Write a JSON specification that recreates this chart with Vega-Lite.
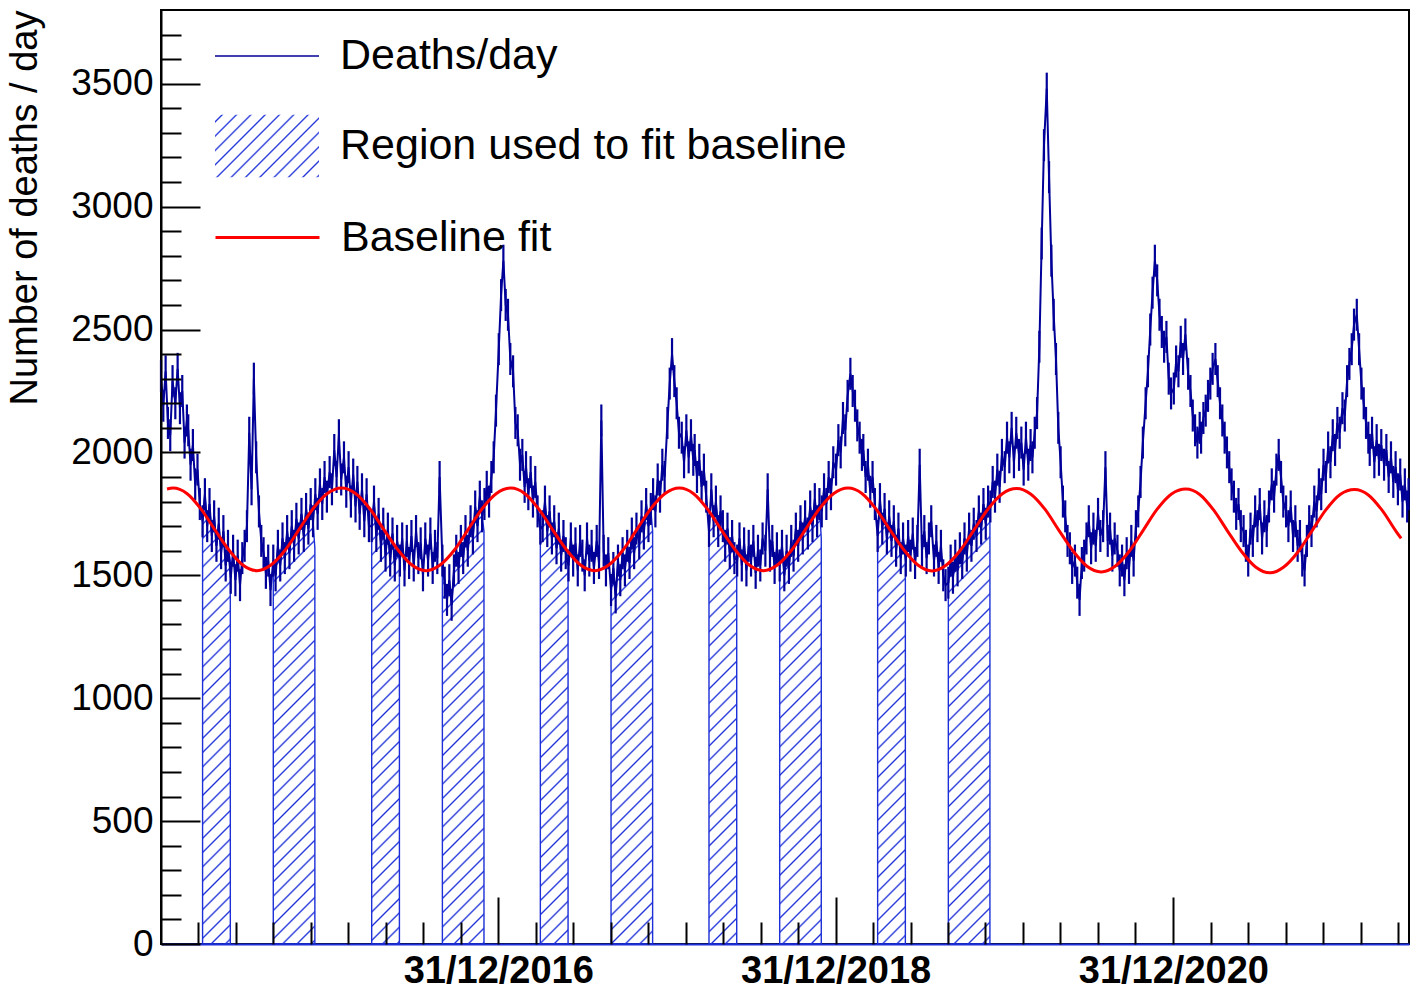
{
  "$schema": "https://vega.github.io/schema/vega-lite/v6.json",
  "description": "Daily deaths with the baseline fit and the regions used for the fit",
  "width": 1248,
  "height": 934,
  "autosize": "none",
  "padding": {"left": 161, "top": 10, "right": 8, "bottom": 54},
  "background": "#ffffff",
  "datasets": {
    "deaths": [
      {"d":"2015-01-01","v":2310},{"d":"2015-01-06","v":2190},{"d":"2015-01-11","v":2330},{"d":"2015-01-16","v":2120},{"d":"2015-01-21","v":2070},{"d":"2015-01-26","v":2290},
      {"d":"2015-02-01","v":2200},{"d":"2015-02-06","v":2340},{"d":"2015-02-11","v":2180},{"d":"2015-02-16","v":2250},{"d":"2015-02-21","v":2040},{"d":"2015-02-26","v":2130},
      {"d":"2015-03-01","v":2090},{"d":"2015-03-06","v":1950},{"d":"2015-03-11","v":2030},{"d":"2015-03-16","v":1870},{"d":"2015-03-21","v":1930},{"d":"2015-03-26","v":1790},
      {"d":"2015-04-01","v":1720},{"d":"2015-04-06","v":1830},{"d":"2015-04-11","v":1700},{"d":"2015-04-16","v":1790},{"d":"2015-04-21","v":1660},{"d":"2015-04-26","v":1740},
      {"d":"2015-05-01","v":1620},{"d":"2015-05-06","v":1710},{"d":"2015-05-11","v":1590},{"d":"2015-05-16","v":1680},{"d":"2015-05-21","v":1540},{"d":"2015-05-26","v":1620},
      {"d":"2015-06-01","v":1490},{"d":"2015-06-06","v":1600},{"d":"2015-06-11","v":1480},{"d":"2015-06-16","v":1580},{"d":"2015-06-21","v":1460},{"d":"2015-06-26","v":1570},
      {"d":"2015-07-01","v":1620},{"d":"2015-07-06","v":1700},{"d":"2015-07-11","v":2080},{"d":"2015-07-16","v":1850},{"d":"2015-07-21","v":2300},{"d":"2015-07-26","v":1980},
      {"d":"2015-08-01","v":1760},{"d":"2015-08-06","v":1640},{"d":"2015-08-11","v":1590},{"d":"2015-08-16","v":1510},{"d":"2015-08-21","v":1560},{"d":"2015-08-26","v":1440},
      {"d":"2015-09-01","v":1560},{"d":"2015-09-06","v":1500},{"d":"2015-09-11","v":1620},{"d":"2015-09-16","v":1540},{"d":"2015-09-21","v":1650},{"d":"2015-09-26","v":1570},
      {"d":"2015-10-01","v":1680},{"d":"2015-10-06","v":1590},{"d":"2015-10-11","v":1700},{"d":"2015-10-16","v":1620},{"d":"2015-10-21","v":1730},{"d":"2015-10-26","v":1650},
      {"d":"2015-11-01","v":1750},{"d":"2015-11-06","v":1660},{"d":"2015-11-11","v":1770},{"d":"2015-11-16","v":1690},{"d":"2015-11-21","v":1790},{"d":"2015-11-26","v":1720},
      {"d":"2015-12-01","v":1830},{"d":"2015-12-06","v":1750},{"d":"2015-12-11","v":1870},{"d":"2015-12-16","v":1790},{"d":"2015-12-21","v":1900},{"d":"2015-12-26","v":1820},
      {"d":"2016-01-01","v":1920},{"d":"2016-01-06","v":1850},{"d":"2016-01-11","v":2010},{"d":"2016-01-16","v":1900},{"d":"2016-01-21","v":2070},{"d":"2016-01-26","v":1890},
      {"d":"2016-02-01","v":1980},{"d":"2016-02-06","v":1840},{"d":"2016-02-11","v":1940},{"d":"2016-02-16","v":1800},{"d":"2016-02-21","v":1910},{"d":"2016-02-26","v":1780},
      {"d":"2016-03-01","v":1880},{"d":"2016-03-06","v":1750},{"d":"2016-03-11","v":1850},{"d":"2016-03-16","v":1720},{"d":"2016-03-21","v":1830},{"d":"2016-03-26","v":1700},
      {"d":"2016-04-01","v":1700},{"d":"2016-04-06","v":1800},{"d":"2016-04-11","v":1660},{"d":"2016-04-16","v":1750},{"d":"2016-04-21","v":1620},{"d":"2016-04-26","v":1710},
      {"d":"2016-05-01","v":1580},{"d":"2016-05-06","v":1690},{"d":"2016-05-11","v":1560},{"d":"2016-05-16","v":1670},{"d":"2016-05-21","v":1540},{"d":"2016-05-26","v":1640},
      {"d":"2016-06-01","v":1560},{"d":"2016-06-06","v":1650},{"d":"2016-06-11","v":1520},{"d":"2016-06-16","v":1640},{"d":"2016-06-21","v":1550},{"d":"2016-06-26","v":1660},
      {"d":"2016-07-01","v":1540},{"d":"2016-07-06","v":1680},{"d":"2016-07-11","v":1570},{"d":"2016-07-16","v":1630},{"d":"2016-07-21","v":1500},{"d":"2016-07-26","v":1650},
      {"d":"2016-08-01","v":1560},{"d":"2016-08-06","v":1670},{"d":"2016-08-11","v":1530},{"d":"2016-08-16","v":1620},{"d":"2016-08-21","v":1570},{"d":"2016-08-26","v":1900},
      {"d":"2016-09-01","v":1560},{"d":"2016-09-06","v":1470},{"d":"2016-09-11","v":1400},{"d":"2016-09-16","v":1480},{"d":"2016-09-21","v":1380},{"d":"2016-09-26","v":1520},
      {"d":"2016-10-01","v":1600},{"d":"2016-10-06","v":1530},{"d":"2016-10-11","v":1640},{"d":"2016-10-16","v":1570},{"d":"2016-10-21","v":1680},{"d":"2016-10-26","v":1600},
      {"d":"2016-11-01","v":1720},{"d":"2016-11-06","v":1650},{"d":"2016-11-11","v":1780},{"d":"2016-11-16","v":1700},{"d":"2016-11-21","v":1820},{"d":"2016-11-26","v":1740},
      {"d":"2016-12-01","v":1790},{"d":"2016-12-06","v":1860},{"d":"2016-12-11","v":1800},{"d":"2016-12-16","v":1900},{"d":"2016-12-21","v":1980},{"d":"2016-12-26","v":2170},
      {"d":"2017-01-01","v":2420},{"d":"2017-01-06","v":2640},{"d":"2017-01-11","v":2780},{"d":"2017-01-16","v":2600},{"d":"2017-01-21","v":2560},{"d":"2017-01-26","v":2380},
      {"d":"2017-02-01","v":2330},{"d":"2017-02-06","v":2120},{"d":"2017-02-11","v":2090},{"d":"2017-02-16","v":1950},{"d":"2017-02-21","v":1990},{"d":"2017-02-26","v":1860},
      {"d":"2017-03-01","v":1940},{"d":"2017-03-06","v":1830},{"d":"2017-03-11","v":1920},{"d":"2017-03-16","v":1800},{"d":"2017-03-21","v":1880},{"d":"2017-03-26","v":1760},
      {"d":"2017-04-01","v":1690},{"d":"2017-04-06","v":1700},{"d":"2017-04-11","v":1800},{"d":"2017-04-16","v":1680},{"d":"2017-04-21","v":1760},{"d":"2017-04-26","v":1650},
      {"d":"2017-05-01","v":1720},{"d":"2017-05-06","v":1610},{"d":"2017-05-11","v":1690},{"d":"2017-05-16","v":1580},{"d":"2017-05-21","v":1660},{"d":"2017-05-26","v":1590},
      {"d":"2017-06-01","v":1540},{"d":"2017-06-06","v":1650},{"d":"2017-06-11","v":1560},{"d":"2017-06-16","v":1630},{"d":"2017-06-21","v":1520},{"d":"2017-06-26","v":1640},
      {"d":"2017-07-01","v":1580},{"d":"2017-07-06","v":1500},{"d":"2017-07-11","v":1650},{"d":"2017-07-16","v":1560},{"d":"2017-07-21","v":1620},{"d":"2017-07-26","v":1530},
      {"d":"2017-08-01","v":1640},{"d":"2017-08-06","v":1550},{"d":"2017-08-11","v":2130},{"d":"2017-08-16","v":1600},{"d":"2017-08-21","v":1520},{"d":"2017-08-26","v":1590},
      {"d":"2017-09-01","v":1440},{"d":"2017-09-06","v":1530},{"d":"2017-09-11","v":1410},{"d":"2017-09-16","v":1560},{"d":"2017-09-21","v":1480},{"d":"2017-09-26","v":1590},
      {"d":"2017-10-01","v":1520},{"d":"2017-10-06","v":1620},{"d":"2017-10-11","v":1550},{"d":"2017-10-16","v":1670},{"d":"2017-10-21","v":1590},{"d":"2017-10-26","v":1690},
      {"d":"2017-11-01","v":1630},{"d":"2017-11-06","v":1740},{"d":"2017-11-11","v":1670},{"d":"2017-11-16","v":1790},{"d":"2017-11-21","v":1700},{"d":"2017-11-26","v":1770},
      {"d":"2017-12-01","v":1830},{"d":"2017-12-06","v":1760},{"d":"2017-12-11","v":1890},{"d":"2017-12-16","v":1820},{"d":"2017-12-21","v":1950},{"d":"2017-12-26","v":1900},
      {"d":"2018-01-01","v":2120},{"d":"2018-01-06","v":2280},{"d":"2018-01-11","v":2400},{"d":"2018-01-16","v":2290},{"d":"2018-01-21","v":2200},{"d":"2018-01-26","v":2080},
      {"d":"2018-02-01","v":2060},{"d":"2018-02-06","v":1960},{"d":"2018-02-11","v":2090},{"d":"2018-02-16","v":1980},{"d":"2018-02-21","v":2070},{"d":"2018-02-26","v":1970},
      {"d":"2018-03-01","v":2010},{"d":"2018-03-06","v":1900},{"d":"2018-03-11","v":1970},{"d":"2018-03-16","v":1860},{"d":"2018-03-21","v":1930},{"d":"2018-03-26","v":1820},
      {"d":"2018-04-01","v":1680},{"d":"2018-04-06","v":1850},{"d":"2018-04-11","v":1720},{"d":"2018-04-16","v":1800},{"d":"2018-04-21","v":1680},{"d":"2018-04-26","v":1760},
      {"d":"2018-05-01","v":1700},{"d":"2018-05-06","v":1620},{"d":"2018-05-11","v":1690},{"d":"2018-05-16","v":1590},{"d":"2018-05-21","v":1660},{"d":"2018-05-26","v":1570},
      {"d":"2018-06-01","v":1560},{"d":"2018-06-06","v":1650},{"d":"2018-06-11","v":1540},{"d":"2018-06-16","v":1630},{"d":"2018-06-21","v":1520},{"d":"2018-06-26","v":1620},
      {"d":"2018-07-01","v":1560},{"d":"2018-07-06","v":1640},{"d":"2018-07-11","v":1510},{"d":"2018-07-16","v":1600},{"d":"2018-07-21","v":1540},{"d":"2018-07-26","v":1650},
      {"d":"2018-08-01","v":1600},{"d":"2018-08-06","v":1850},{"d":"2018-08-11","v":1580},{"d":"2018-08-16","v":1640},{"d":"2018-08-21","v":1530},{"d":"2018-08-26","v":1610},
      {"d":"2018-09-01","v":1540},{"d":"2018-09-06","v":1620},{"d":"2018-09-11","v":1500},{"d":"2018-09-16","v":1600},{"d":"2018-09-21","v":1530},{"d":"2018-09-26","v":1640},
      {"d":"2018-10-01","v":1580},{"d":"2018-10-06","v":1690},{"d":"2018-10-11","v":1620},{"d":"2018-10-16","v":1720},{"d":"2018-10-21","v":1650},{"d":"2018-10-26","v":1740},
      {"d":"2018-11-01","v":1670},{"d":"2018-11-06","v":1780},{"d":"2018-11-11","v":1700},{"d":"2018-11-16","v":1810},{"d":"2018-11-21","v":1720},{"d":"2018-11-26","v":1790},
      {"d":"2018-12-01","v":1760},{"d":"2018-12-06","v":1850},{"d":"2018-12-11","v":1790},{"d":"2018-12-16","v":1900},{"d":"2018-12-21","v":1830},{"d":"2018-12-26","v":1960},
      {"d":"2019-01-01","v":1930},{"d":"2019-01-06","v":2050},{"d":"2019-01-11","v":2000},{"d":"2019-01-16","v":2140},{"d":"2019-01-21","v":2090},{"d":"2019-01-26","v":2230},
      {"d":"2019-02-01","v":2320},{"d":"2019-02-06","v":2250},{"d":"2019-02-11","v":2190},{"d":"2019-02-16","v":2110},{"d":"2019-02-21","v":2060},{"d":"2019-02-26","v":1990},
      {"d":"2019-03-01","v":2010},{"d":"2019-03-06","v":1900},{"d":"2019-03-11","v":1950},{"d":"2019-03-16","v":1840},{"d":"2019-03-21","v":1900},{"d":"2019-03-26","v":1790},
      {"d":"2019-04-01","v":1660},{"d":"2019-04-06","v":1810},{"d":"2019-04-11","v":1690},{"d":"2019-04-16","v":1770},{"d":"2019-04-21","v":1650},{"d":"2019-04-26","v":1740},
      {"d":"2019-05-01","v":1640},{"d":"2019-05-06","v":1720},{"d":"2019-05-11","v":1600},{"d":"2019-05-16","v":1690},{"d":"2019-05-21","v":1570},{"d":"2019-05-26","v":1650},
      {"d":"2019-06-01","v":1560},{"d":"2019-06-06","v":1660},{"d":"2019-06-11","v":1580},{"d":"2019-06-16","v":1670},{"d":"2019-06-21","v":1550},{"d":"2019-06-26","v":1640},
      {"d":"2019-07-01","v":1950},{"d":"2019-07-06","v":1600},{"d":"2019-07-11","v":1680},{"d":"2019-07-16","v":1570},{"d":"2019-07-21","v":1650},{"d":"2019-07-26","v":1720},
      {"d":"2019-08-01","v":1560},{"d":"2019-08-06","v":1640},{"d":"2019-08-11","v":1530},{"d":"2019-08-16","v":1620},{"d":"2019-08-21","v":1500},{"d":"2019-08-26","v":1460},
      {"d":"2019-09-01","v":1470},{"d":"2019-09-06","v":1560},{"d":"2019-09-11","v":1490},{"d":"2019-09-16","v":1580},{"d":"2019-09-21","v":1520},{"d":"2019-09-26","v":1610},
      {"d":"2019-10-01","v":1550},{"d":"2019-10-06","v":1650},{"d":"2019-10-11","v":1580},{"d":"2019-10-16","v":1690},{"d":"2019-10-21","v":1620},{"d":"2019-10-26","v":1710},
      {"d":"2019-11-01","v":1660},{"d":"2019-11-06","v":1760},{"d":"2019-11-11","v":1690},{"d":"2019-11-16","v":1790},{"d":"2019-11-21","v":1710},{"d":"2019-11-26","v":1800},
      {"d":"2019-12-01","v":1780},{"d":"2019-12-06","v":1880},{"d":"2019-12-11","v":1820},{"d":"2019-12-16","v":1930},{"d":"2019-12-21","v":1860},{"d":"2019-12-26","v":1990},
      {"d":"2020-01-01","v":1940},{"d":"2020-01-06","v":2060},{"d":"2020-01-11","v":1980},{"d":"2020-01-16","v":2100},{"d":"2020-01-21","v":1960},{"d":"2020-01-26","v":2080},
      {"d":"2020-02-01","v":1990},{"d":"2020-02-06","v":2040},{"d":"2020-02-11","v":1930},{"d":"2020-02-16","v":2060},{"d":"2020-02-21","v":1950},{"d":"2020-02-26","v":2030},
      {"d":"2020-03-01","v":1980},{"d":"2020-03-06","v":2080},{"d":"2020-03-11","v":2160},{"d":"2020-03-16","v":2430},{"d":"2020-03-21","v":2850},{"d":"2020-03-26","v":3250},
      {"d":"2020-04-01","v":3480},{"d":"2020-04-06","v":3120},{"d":"2020-04-11","v":2780},{"d":"2020-04-16","v":2560},{"d":"2020-04-21","v":2380},{"d":"2020-04-26","v":2100},
      {"d":"2020-05-01","v":1960},{"d":"2020-05-06","v":1800},{"d":"2020-05-11","v":1740},{"d":"2020-05-16","v":1640},{"d":"2020-05-21","v":1610},{"d":"2020-05-26","v":1530},
      {"d":"2020-06-01","v":1560},{"d":"2020-06-06","v":1470},{"d":"2020-06-11","v":1400},{"d":"2020-06-16","v":1550},{"d":"2020-06-21","v":1580},{"d":"2020-06-26","v":1650},
      {"d":"2020-07-01","v":1720},{"d":"2020-07-06","v":1610},{"d":"2020-07-11","v":1690},{"d":"2020-07-16","v":1620},{"d":"2020-07-21","v":1750},{"d":"2020-07-26","v":1660},
      {"d":"2020-08-01","v":1700},{"d":"2020-08-06","v":1940},{"d":"2020-08-11","v":1640},{"d":"2020-08-16","v":1690},{"d":"2020-08-21","v":1580},{"d":"2020-08-26","v":1650},
      {"d":"2020-09-01","v":1600},{"d":"2020-09-06","v":1520},{"d":"2020-09-11","v":1560},{"d":"2020-09-16","v":1480},{"d":"2020-09-21","v":1590},{"d":"2020-09-26","v":1530},
      {"d":"2020-10-01","v":1640},{"d":"2020-10-06","v":1560},{"d":"2020-10-11","v":1700},{"d":"2020-10-16","v":1760},{"d":"2020-10-21","v":1880},{"d":"2020-10-26","v":2040},
      {"d":"2020-11-01","v":2200},{"d":"2020-11-06","v":2330},{"d":"2020-11-11","v":2500},{"d":"2020-11-16","v":2650},{"d":"2020-11-21","v":2780},{"d":"2020-11-26","v":2700},
      {"d":"2020-12-01","v":2560},{"d":"2020-12-06","v":2490},{"d":"2020-12-11","v":2430},{"d":"2020-12-16","v":2470},{"d":"2020-12-21","v":2300},{"d":"2020-12-26","v":2240},
      {"d":"2021-01-01","v":2260},{"d":"2021-01-06","v":2370},{"d":"2021-01-11","v":2330},{"d":"2021-01-16","v":2450},{"d":"2021-01-21","v":2380},{"d":"2021-01-26","v":2480},
      {"d":"2021-02-01","v":2320},{"d":"2021-02-06","v":2250},{"d":"2021-02-11","v":2150},{"d":"2021-02-16","v":2090},{"d":"2021-02-21","v":2040},{"d":"2021-02-26","v":2100},
      {"d":"2021-03-01","v":2060},{"d":"2021-03-06","v":2140},{"d":"2021-03-11","v":2170},{"d":"2021-03-16","v":2230},{"d":"2021-03-21","v":2280},{"d":"2021-03-26","v":2340},
      {"d":"2021-04-01","v":2380},{"d":"2021-04-06","v":2290},{"d":"2021-04-11","v":2200},{"d":"2021-04-16","v":2130},{"d":"2021-04-21","v":2060},{"d":"2021-04-26","v":2000},
      {"d":"2021-05-01","v":1940},{"d":"2021-05-06","v":1870},{"d":"2021-05-11","v":1820},{"d":"2021-05-16","v":1750},{"d":"2021-05-21","v":1790},{"d":"2021-05-26","v":1700},
      {"d":"2021-06-01","v":1680},{"d":"2021-06-06","v":1620},{"d":"2021-06-11","v":1560},{"d":"2021-06-16","v":1690},{"d":"2021-06-21","v":1640},{"d":"2021-06-26","v":1760},
      {"d":"2021-07-01","v":1700},{"d":"2021-07-06","v":1790},{"d":"2021-07-11","v":1650},{"d":"2021-07-16","v":1740},{"d":"2021-07-21","v":1680},{"d":"2021-07-26","v":1780},
      {"d":"2021-08-01","v":1870},{"d":"2021-08-06","v":1820},{"d":"2021-08-11","v":1930},{"d":"2021-08-16","v":1990},{"d":"2021-08-21","v":1900},{"d":"2021-08-26","v":1800},
      {"d":"2021-09-01","v":1760},{"d":"2021-09-06","v":1700},{"d":"2021-09-11","v":1780},{"d":"2021-09-16","v":1660},{"d":"2021-09-21","v":1720},{"d":"2021-09-26","v":1620},
      {"d":"2021-10-01","v":1660},{"d":"2021-10-06","v":1560},{"d":"2021-10-11","v":1520},{"d":"2021-10-16","v":1640},{"d":"2021-10-21","v":1720},{"d":"2021-10-26","v":1680},
      {"d":"2021-11-01","v":1800},{"d":"2021-11-06","v":1760},{"d":"2021-11-11","v":1870},{"d":"2021-11-16","v":1830},{"d":"2021-11-21","v":1950},{"d":"2021-11-26","v":1900},
      {"d":"2021-12-01","v":2020},{"d":"2021-12-06","v":1960},{"d":"2021-12-11","v":2070},{"d":"2021-12-16","v":2010},{"d":"2021-12-21","v":2120},{"d":"2021-12-26","v":2080},
      {"d":"2022-01-01","v":2180},{"d":"2022-01-06","v":2150},{"d":"2022-01-11","v":2290},{"d":"2022-01-16","v":2360},{"d":"2022-01-21","v":2420},{"d":"2022-01-26","v":2520},
      {"d":"2022-02-01","v":2560},{"d":"2022-02-06","v":2420},{"d":"2022-02-11","v":2280},{"d":"2022-02-16","v":2200},{"d":"2022-02-21","v":2120},{"d":"2022-02-26","v":2060},
      {"d":"2022-03-01","v":2010},{"d":"2022-03-06","v":2080},{"d":"2022-03-11","v":1960},{"d":"2022-03-16","v":2050},{"d":"2022-03-21","v":1970},{"d":"2022-03-26","v":2030},
      {"d":"2022-04-01","v":1950},{"d":"2022-04-06","v":2010},{"d":"2022-04-11","v":1900},{"d":"2022-04-16","v":1980},{"d":"2022-04-21","v":1880},{"d":"2022-04-26","v":1940},
      {"d":"2022-05-01","v":1850},{"d":"2022-05-06","v":1910},{"d":"2022-05-11","v":1800},{"d":"2022-05-16","v":1870},{"d":"2022-05-21","v":1780},{"d":"2022-05-24","v":1830}
    ],
    "fitregion": [
      {"d":"2015-04-01","v":1720},{"d":"2015-04-06","v":1830},{"d":"2015-04-11","v":1700},{"d":"2015-04-16","v":1790},{"d":"2015-04-21","v":1660},{"d":"2015-04-26","v":1740},
      {"d":"2015-05-01","v":1620},{"d":"2015-05-06","v":1710},{"d":"2015-05-11","v":1590},{"d":"2015-05-16","v":1680},{"d":"2015-05-21","v":1540},{"d":"2015-05-26","v":1620},{"d":"2015-05-31","v":1560},{"d":"2015-06-01","v":null},
      {"d":"2015-09-01","v":1560},{"d":"2015-09-06","v":1500},{"d":"2015-09-11","v":1620},{"d":"2015-09-16","v":1540},{"d":"2015-09-21","v":1650},{"d":"2015-09-26","v":1570},
      {"d":"2015-10-01","v":1680},{"d":"2015-10-06","v":1590},{"d":"2015-10-11","v":1700},{"d":"2015-10-16","v":1620},{"d":"2015-10-21","v":1730},{"d":"2015-10-26","v":1650},
      {"d":"2015-11-01","v":1750},{"d":"2015-11-06","v":1660},{"d":"2015-11-11","v":1770},{"d":"2015-11-16","v":1690},{"d":"2015-11-21","v":1790},{"d":"2015-11-26","v":1720},{"d":"2015-11-30","v":1610},{"d":"2015-12-01","v":null},
      {"d":"2016-04-01","v":1700},{"d":"2016-04-06","v":1800},{"d":"2016-04-11","v":1660},{"d":"2016-04-16","v":1750},{"d":"2016-04-21","v":1620},{"d":"2016-04-26","v":1710},
      {"d":"2016-05-01","v":1580},{"d":"2016-05-06","v":1690},{"d":"2016-05-11","v":1560},{"d":"2016-05-16","v":1670},{"d":"2016-05-21","v":1540},{"d":"2016-05-26","v":1640},{"d":"2016-05-31","v":1590},{"d":"2016-06-01","v":null},
      {"d":"2016-09-01","v":1560},{"d":"2016-09-06","v":1470},{"d":"2016-09-11","v":1400},{"d":"2016-09-16","v":1480},{"d":"2016-09-21","v":1380},{"d":"2016-09-26","v":1520},
      {"d":"2016-10-01","v":1600},{"d":"2016-10-06","v":1530},{"d":"2016-10-11","v":1640},{"d":"2016-10-16","v":1570},{"d":"2016-10-21","v":1680},{"d":"2016-10-26","v":1600},
      {"d":"2016-11-01","v":1720},{"d":"2016-11-06","v":1650},{"d":"2016-11-11","v":1780},{"d":"2016-11-16","v":1700},{"d":"2016-11-21","v":1820},{"d":"2016-11-26","v":1740},{"d":"2016-11-30","v":1680},{"d":"2016-12-01","v":null},
      {"d":"2017-04-01","v":1690},{"d":"2017-04-06","v":1700},{"d":"2017-04-11","v":1800},{"d":"2017-04-16","v":1680},{"d":"2017-04-21","v":1760},{"d":"2017-04-26","v":1650},
      {"d":"2017-05-01","v":1720},{"d":"2017-05-06","v":1610},{"d":"2017-05-11","v":1690},{"d":"2017-05-16","v":1580},{"d":"2017-05-21","v":1660},{"d":"2017-05-26","v":1590},{"d":"2017-05-31","v":1580},{"d":"2017-06-01","v":null},
      {"d":"2017-09-01","v":1440},{"d":"2017-09-06","v":1530},{"d":"2017-09-11","v":1410},{"d":"2017-09-16","v":1560},{"d":"2017-09-21","v":1480},{"d":"2017-09-26","v":1590},
      {"d":"2017-10-01","v":1520},{"d":"2017-10-06","v":1620},{"d":"2017-10-11","v":1550},{"d":"2017-10-16","v":1670},{"d":"2017-10-21","v":1590},{"d":"2017-10-26","v":1690},
      {"d":"2017-11-01","v":1630},{"d":"2017-11-06","v":1740},{"d":"2017-11-11","v":1670},{"d":"2017-11-16","v":1790},{"d":"2017-11-21","v":1700},{"d":"2017-11-26","v":1770},{"d":"2017-11-30","v":1680},{"d":"2017-12-01","v":null},
      {"d":"2018-04-01","v":1680},{"d":"2018-04-06","v":1850},{"d":"2018-04-11","v":1720},{"d":"2018-04-16","v":1800},{"d":"2018-04-21","v":1680},{"d":"2018-04-26","v":1760},
      {"d":"2018-05-01","v":1700},{"d":"2018-05-06","v":1620},{"d":"2018-05-11","v":1690},{"d":"2018-05-16","v":1590},{"d":"2018-05-21","v":1660},{"d":"2018-05-26","v":1570},{"d":"2018-05-31","v":1580},{"d":"2018-06-01","v":null},
      {"d":"2018-09-01","v":1540},{"d":"2018-09-06","v":1620},{"d":"2018-09-11","v":1500},{"d":"2018-09-16","v":1600},{"d":"2018-09-21","v":1530},{"d":"2018-09-26","v":1640},
      {"d":"2018-10-01","v":1580},{"d":"2018-10-06","v":1690},{"d":"2018-10-11","v":1620},{"d":"2018-10-16","v":1720},{"d":"2018-10-21","v":1650},{"d":"2018-10-26","v":1740},
      {"d":"2018-11-01","v":1670},{"d":"2018-11-06","v":1780},{"d":"2018-11-11","v":1700},{"d":"2018-11-16","v":1810},{"d":"2018-11-21","v":1720},{"d":"2018-11-26","v":1790},{"d":"2018-11-30","v":1650},{"d":"2018-12-01","v":null},
      {"d":"2019-04-01","v":1660},{"d":"2019-04-06","v":1810},{"d":"2019-04-11","v":1690},{"d":"2019-04-16","v":1770},{"d":"2019-04-21","v":1650},{"d":"2019-04-26","v":1740},
      {"d":"2019-05-01","v":1640},{"d":"2019-05-06","v":1720},{"d":"2019-05-11","v":1600},{"d":"2019-05-16","v":1690},{"d":"2019-05-21","v":1570},{"d":"2019-05-26","v":1650},{"d":"2019-05-31","v":1580},{"d":"2019-06-01","v":null},
      {"d":"2019-09-01","v":1470},{"d":"2019-09-06","v":1560},{"d":"2019-09-11","v":1490},{"d":"2019-09-16","v":1580},{"d":"2019-09-21","v":1520},{"d":"2019-09-26","v":1610},
      {"d":"2019-10-01","v":1550},{"d":"2019-10-06","v":1650},{"d":"2019-10-11","v":1580},{"d":"2019-10-16","v":1690},{"d":"2019-10-21","v":1620},{"d":"2019-10-26","v":1710},
      {"d":"2019-11-01","v":1660},{"d":"2019-11-06","v":1760},{"d":"2019-11-11","v":1690},{"d":"2019-11-16","v":1790},{"d":"2019-11-21","v":1710},{"d":"2019-11-26","v":1800},{"d":"2019-11-30","v":1740}
    ],
    "baseline": [
      {"d":"2015-01-14","v":1851},{"d":"2015-01-27","v":1855},{"d":"2015-02-26","v":1833},{"d":"2015-03-28","v":1771},{"d":"2015-04-27","v":1687},{"d":"2015-05-28","v":1603},{"d":"2015-06-27","v":1542},{"d":"2015-07-28","v":1519},{"d":"2015-08-27","v":1542},{"d":"2015-09-27","v":1603},{"d":"2015-10-27","v":1687},{"d":"2015-11-26","v":1771},{"d":"2015-12-27","v":1833},
      {"d":"2016-01-27","v":1855},{"d":"2016-02-26","v":1833},{"d":"2016-03-28","v":1771},{"d":"2016-04-27","v":1687},{"d":"2016-05-28","v":1603},{"d":"2016-06-27","v":1542},{"d":"2016-07-28","v":1519},{"d":"2016-08-27","v":1542},{"d":"2016-09-27","v":1603},{"d":"2016-10-27","v":1687},{"d":"2016-11-26","v":1771},{"d":"2016-12-27","v":1833},
      {"d":"2017-01-27","v":1855},{"d":"2017-02-26","v":1833},{"d":"2017-03-28","v":1771},{"d":"2017-04-27","v":1687},{"d":"2017-05-28","v":1603},{"d":"2017-06-27","v":1542},{"d":"2017-07-28","v":1519},{"d":"2017-08-27","v":1542},{"d":"2017-09-27","v":1603},{"d":"2017-10-27","v":1687},{"d":"2017-11-26","v":1771},{"d":"2017-12-27","v":1833},
      {"d":"2018-01-27","v":1855},{"d":"2018-02-26","v":1833},{"d":"2018-03-28","v":1771},{"d":"2018-04-27","v":1687},{"d":"2018-05-28","v":1603},{"d":"2018-06-27","v":1542},{"d":"2018-07-28","v":1519},{"d":"2018-08-27","v":1542},{"d":"2018-09-27","v":1603},{"d":"2018-10-27","v":1687},{"d":"2018-11-26","v":1771},{"d":"2018-12-27","v":1833},
      {"d":"2019-01-27","v":1855},{"d":"2019-02-26","v":1833},{"d":"2019-03-28","v":1771},{"d":"2019-04-27","v":1687},{"d":"2019-05-28","v":1603},{"d":"2019-06-27","v":1542},{"d":"2019-07-28","v":1518},{"d":"2019-08-27","v":1541},{"d":"2019-09-27","v":1602},{"d":"2019-10-27","v":1686},{"d":"2019-11-26","v":1770},{"d":"2019-12-27","v":1832},
      {"d":"2020-01-27","v":1853},{"d":"2020-02-26","v":1831},{"d":"2020-03-28","v":1769},{"d":"2020-04-27","v":1684},{"d":"2020-05-28","v":1599},{"d":"2020-06-27","v":1537},{"d":"2020-07-28","v":1514},{"d":"2020-08-27","v":1537},{"d":"2020-09-27","v":1599},{"d":"2020-10-27","v":1684},{"d":"2020-11-26","v":1769},{"d":"2020-12-27","v":1831},
      {"d":"2021-01-27","v":1851},{"d":"2021-02-26","v":1829},{"d":"2021-03-28","v":1766},{"d":"2021-04-27","v":1681},{"d":"2021-05-28","v":1596},{"d":"2021-06-27","v":1534},{"d":"2021-07-28","v":1510},{"d":"2021-08-27","v":1534},{"d":"2021-09-27","v":1596},{"d":"2021-10-27","v":1681},{"d":"2021-11-26","v":1766},{"d":"2021-12-27","v":1829},
      {"d":"2022-01-27","v":1849},{"d":"2022-02-26","v":1827},{"d":"2022-03-28","v":1764},{"d":"2022-04-27","v":1679},{"d":"2022-05-08","v":1650}
    ]
  },
  "layer": [
    {
      "data": {"name": "fitregion"},
      "mark": {"type": "area", "stroke": "#1c2fd8", "strokeWidth": 1.4},
      "encoding": {
        "x": {
          "field": "d", "type": "temporal",
          "scale": {"type": "utc", "domain": [1420070400000, 1653436800000], "nice": false},
          "axis": {
            "orient": "bottom",
            "values": [1483142400000, 1546214400000, 1609372800000],
            "labelExpr": "utcFormat(datum.value, '%d/%m/%Y')",
            "ticks": false, "labelFontSize": 38, "labelFontWeight": "bold",
            "labelPadding": 8, "labelFlush": false, "labelLimit": 500,
            "domainColor": "#1c2fd8", "domainWidth": 2,
            "title": null, "zindex": 2
          }
        },
        "y": {
          "field": "v", "type": "quantitative", "stack": null,
          "scale": {"domain": [0, 3800], "nice": false},
          "axis": {
            "orient": "left",
            "values": [0, 500, 1000, 1500, 2000, 2500, 3000, 3500],
            "format": "d",
            "ticks": false, "labelFontSize": 37, "labelPadding": 8,
            "domainColor": "#000000", "domainWidth": 2,
            "title": "Number of deaths / day", "titleFontSize": 38, "titleFontWeight": "normal",
            "titleAngle": 270, "titleAlign": "right", "titleBaseline": "alphabetic",
            "titleX": -125, "titleY": 0, "zindex": 2
          }
        },
        "fill": {
          "value": {
            "gradient": "linear", "x1": 0, "y1": 0, "x2": 1.1829, "y2": 0.6832,
            "stops": [
              {"offset":0.0035,"color":"rgba(28,47,216,0)"},{"offset":0.005,"color":"#1c2fd8"},{"offset":0.0065,"color":"rgba(28,47,216,0)"},
              {"offset":0.015,"color":"rgba(28,47,216,0)"},{"offset":0.0165,"color":"#1c2fd8"},{"offset":0.018,"color":"rgba(28,47,216,0)"},
              {"offset":0.0265,"color":"rgba(28,47,216,0)"},{"offset":0.028,"color":"#1c2fd8"},{"offset":0.0295,"color":"rgba(28,47,216,0)"},
              {"offset":0.038,"color":"rgba(28,47,216,0)"},{"offset":0.0395,"color":"#1c2fd8"},{"offset":0.041,"color":"rgba(28,47,216,0)"},
              {"offset":0.0495,"color":"rgba(28,47,216,0)"},{"offset":0.051,"color":"#1c2fd8"},{"offset":0.0525,"color":"rgba(28,47,216,0)"},
              {"offset":0.061,"color":"rgba(28,47,216,0)"},{"offset":0.0625,"color":"#1c2fd8"},{"offset":0.064,"color":"rgba(28,47,216,0)"},
              {"offset":0.0725,"color":"rgba(28,47,216,0)"},{"offset":0.074,"color":"#1c2fd8"},{"offset":0.0755,"color":"rgba(28,47,216,0)"},
              {"offset":0.084,"color":"rgba(28,47,216,0)"},{"offset":0.0855,"color":"#1c2fd8"},{"offset":0.087,"color":"rgba(28,47,216,0)"},
              {"offset":0.0955,"color":"rgba(28,47,216,0)"},{"offset":0.097,"color":"#1c2fd8"},{"offset":0.0985,"color":"rgba(28,47,216,0)"},
              {"offset":0.107,"color":"rgba(28,47,216,0)"},{"offset":0.1085,"color":"#1c2fd8"},{"offset":0.11,"color":"rgba(28,47,216,0)"},
              {"offset":0.1185,"color":"rgba(28,47,216,0)"},{"offset":0.12,"color":"#1c2fd8"},{"offset":0.1215,"color":"rgba(28,47,216,0)"},
              {"offset":0.13,"color":"rgba(28,47,216,0)"},{"offset":0.1315,"color":"#1c2fd8"},{"offset":0.133,"color":"rgba(28,47,216,0)"},
              {"offset":0.1415,"color":"rgba(28,47,216,0)"},{"offset":0.143,"color":"#1c2fd8"},{"offset":0.1445,"color":"rgba(28,47,216,0)"},
              {"offset":0.153,"color":"rgba(28,47,216,0)"},{"offset":0.1545,"color":"#1c2fd8"},{"offset":0.156,"color":"rgba(28,47,216,0)"},
              {"offset":0.1645,"color":"rgba(28,47,216,0)"},{"offset":0.166,"color":"#1c2fd8"},{"offset":0.1675,"color":"rgba(28,47,216,0)"},
              {"offset":0.176,"color":"rgba(28,47,216,0)"},{"offset":0.1775,"color":"#1c2fd8"},{"offset":0.179,"color":"rgba(28,47,216,0)"},
              {"offset":0.1875,"color":"rgba(28,47,216,0)"},{"offset":0.189,"color":"#1c2fd8"},{"offset":0.1905,"color":"rgba(28,47,216,0)"},
              {"offset":0.199,"color":"rgba(28,47,216,0)"},{"offset":0.2005,"color":"#1c2fd8"},{"offset":0.202,"color":"rgba(28,47,216,0)"},
              {"offset":0.2105,"color":"rgba(28,47,216,0)"},{"offset":0.212,"color":"#1c2fd8"},{"offset":0.2135,"color":"rgba(28,47,216,0)"},
              {"offset":0.222,"color":"rgba(28,47,216,0)"},{"offset":0.2235,"color":"#1c2fd8"},{"offset":0.225,"color":"rgba(28,47,216,0)"},
              {"offset":0.2335,"color":"rgba(28,47,216,0)"},{"offset":0.235,"color":"#1c2fd8"},{"offset":0.2365,"color":"rgba(28,47,216,0)"},
              {"offset":0.245,"color":"rgba(28,47,216,0)"},{"offset":0.2465,"color":"#1c2fd8"},{"offset":0.248,"color":"rgba(28,47,216,0)"},
              {"offset":0.2565,"color":"rgba(28,47,216,0)"},{"offset":0.258,"color":"#1c2fd8"},{"offset":0.2595,"color":"rgba(28,47,216,0)"},
              {"offset":0.268,"color":"rgba(28,47,216,0)"},{"offset":0.2695,"color":"#1c2fd8"},{"offset":0.271,"color":"rgba(28,47,216,0)"},
              {"offset":0.2795,"color":"rgba(28,47,216,0)"},{"offset":0.281,"color":"#1c2fd8"},{"offset":0.2825,"color":"rgba(28,47,216,0)"},
              {"offset":0.291,"color":"rgba(28,47,216,0)"},{"offset":0.2925,"color":"#1c2fd8"},{"offset":0.294,"color":"rgba(28,47,216,0)"},
              {"offset":0.3025,"color":"rgba(28,47,216,0)"},{"offset":0.304,"color":"#1c2fd8"},{"offset":0.3055,"color":"rgba(28,47,216,0)"},
              {"offset":0.314,"color":"rgba(28,47,216,0)"},{"offset":0.3155,"color":"#1c2fd8"},{"offset":0.317,"color":"rgba(28,47,216,0)"},
              {"offset":0.3255,"color":"rgba(28,47,216,0)"},{"offset":0.327,"color":"#1c2fd8"},{"offset":0.3285,"color":"rgba(28,47,216,0)"},
              {"offset":0.337,"color":"rgba(28,47,216,0)"},{"offset":0.3385,"color":"#1c2fd8"},{"offset":0.34,"color":"rgba(28,47,216,0)"},
              {"offset":0.3485,"color":"rgba(28,47,216,0)"},{"offset":0.35,"color":"#1c2fd8"},{"offset":0.3515,"color":"rgba(28,47,216,0)"},
              {"offset":0.36,"color":"rgba(28,47,216,0)"},{"offset":0.3615,"color":"#1c2fd8"},{"offset":0.363,"color":"rgba(28,47,216,0)"},
              {"offset":0.3715,"color":"rgba(28,47,216,0)"},{"offset":0.373,"color":"#1c2fd8"},{"offset":0.3745,"color":"rgba(28,47,216,0)"},
              {"offset":0.383,"color":"rgba(28,47,216,0)"},{"offset":0.3845,"color":"#1c2fd8"},{"offset":0.386,"color":"rgba(28,47,216,0)"},
              {"offset":0.3945,"color":"rgba(28,47,216,0)"},{"offset":0.396,"color":"#1c2fd8"},{"offset":0.3975,"color":"rgba(28,47,216,0)"},
              {"offset":0.406,"color":"rgba(28,47,216,0)"},{"offset":0.4075,"color":"#1c2fd8"},{"offset":0.409,"color":"rgba(28,47,216,0)"},
              {"offset":0.4175,"color":"rgba(28,47,216,0)"},{"offset":0.419,"color":"#1c2fd8"},{"offset":0.4205,"color":"rgba(28,47,216,0)"},
              {"offset":0.429,"color":"rgba(28,47,216,0)"},{"offset":0.4305,"color":"#1c2fd8"},{"offset":0.432,"color":"rgba(28,47,216,0)"},
              {"offset":0.4405,"color":"rgba(28,47,216,0)"},{"offset":0.442,"color":"#1c2fd8"},{"offset":0.4435,"color":"rgba(28,47,216,0)"},
              {"offset":0.452,"color":"rgba(28,47,216,0)"},{"offset":0.4535,"color":"#1c2fd8"},{"offset":0.455,"color":"rgba(28,47,216,0)"},
              {"offset":0.4635,"color":"rgba(28,47,216,0)"},{"offset":0.465,"color":"#1c2fd8"},{"offset":0.4665,"color":"rgba(28,47,216,0)"},
              {"offset":0.475,"color":"rgba(28,47,216,0)"},{"offset":0.4765,"color":"#1c2fd8"},{"offset":0.478,"color":"rgba(28,47,216,0)"},
              {"offset":0.4865,"color":"rgba(28,47,216,0)"},{"offset":0.488,"color":"#1c2fd8"},{"offset":0.4895,"color":"rgba(28,47,216,0)"},
              {"offset":0.498,"color":"rgba(28,47,216,0)"},{"offset":0.4995,"color":"#1c2fd8"},{"offset":0.501,"color":"rgba(28,47,216,0)"},
              {"offset":0.5095,"color":"rgba(28,47,216,0)"},{"offset":0.511,"color":"#1c2fd8"},{"offset":0.5125,"color":"rgba(28,47,216,0)"},
              {"offset":0.521,"color":"rgba(28,47,216,0)"},{"offset":0.5225,"color":"#1c2fd8"},{"offset":0.524,"color":"rgba(28,47,216,0)"},
              {"offset":0.5325,"color":"rgba(28,47,216,0)"},{"offset":0.534,"color":"#1c2fd8"},{"offset":0.5355,"color":"rgba(28,47,216,0)"},
              {"offset":0.544,"color":"rgba(28,47,216,0)"},{"offset":0.5455,"color":"#1c2fd8"},{"offset":0.547,"color":"rgba(28,47,216,0)"},
              {"offset":0.5555,"color":"rgba(28,47,216,0)"},{"offset":0.557,"color":"#1c2fd8"},{"offset":0.5585,"color":"rgba(28,47,216,0)"},
              {"offset":0.567,"color":"rgba(28,47,216,0)"},{"offset":0.5685,"color":"#1c2fd8"},{"offset":0.57,"color":"rgba(28,47,216,0)"},
              {"offset":0.5785,"color":"rgba(28,47,216,0)"},{"offset":0.58,"color":"#1c2fd8"},{"offset":0.5815,"color":"rgba(28,47,216,0)"},
              {"offset":0.59,"color":"rgba(28,47,216,0)"},{"offset":0.5915,"color":"#1c2fd8"},{"offset":0.593,"color":"rgba(28,47,216,0)"},
              {"offset":0.6015,"color":"rgba(28,47,216,0)"},{"offset":0.603,"color":"#1c2fd8"},{"offset":0.6045,"color":"rgba(28,47,216,0)"},
              {"offset":0.613,"color":"rgba(28,47,216,0)"},{"offset":0.6145,"color":"#1c2fd8"},{"offset":0.616,"color":"rgba(28,47,216,0)"},
              {"offset":0.6245,"color":"rgba(28,47,216,0)"},{"offset":0.626,"color":"#1c2fd8"},{"offset":0.6275,"color":"rgba(28,47,216,0)"},
              {"offset":0.636,"color":"rgba(28,47,216,0)"},{"offset":0.6375,"color":"#1c2fd8"},{"offset":0.639,"color":"rgba(28,47,216,0)"},
              {"offset":0.6475,"color":"rgba(28,47,216,0)"},{"offset":0.649,"color":"#1c2fd8"},{"offset":0.6505,"color":"rgba(28,47,216,0)"},
              {"offset":0.659,"color":"rgba(28,47,216,0)"},{"offset":0.6605,"color":"#1c2fd8"},{"offset":0.662,"color":"rgba(28,47,216,0)"},
              {"offset":0.6705,"color":"rgba(28,47,216,0)"},{"offset":0.672,"color":"#1c2fd8"},{"offset":0.6735,"color":"rgba(28,47,216,0)"},
              {"offset":0.682,"color":"rgba(28,47,216,0)"},{"offset":0.6835,"color":"#1c2fd8"},{"offset":0.685,"color":"rgba(28,47,216,0)"},
              {"offset":0.6935,"color":"rgba(28,47,216,0)"},{"offset":0.695,"color":"#1c2fd8"},{"offset":0.6965,"color":"rgba(28,47,216,0)"},
              {"offset":0.705,"color":"rgba(28,47,216,0)"},{"offset":0.7065,"color":"#1c2fd8"},{"offset":0.708,"color":"rgba(28,47,216,0)"},
              {"offset":0.7165,"color":"rgba(28,47,216,0)"},{"offset":0.718,"color":"#1c2fd8"},{"offset":0.7195,"color":"rgba(28,47,216,0)"},
              {"offset":0.728,"color":"rgba(28,47,216,0)"},{"offset":0.7295,"color":"#1c2fd8"},{"offset":0.731,"color":"rgba(28,47,216,0)"},
              {"offset":0.7395,"color":"rgba(28,47,216,0)"},{"offset":0.741,"color":"#1c2fd8"},{"offset":0.7425,"color":"rgba(28,47,216,0)"},
              {"offset":0.751,"color":"rgba(28,47,216,0)"},{"offset":0.7525,"color":"#1c2fd8"},{"offset":0.754,"color":"rgba(28,47,216,0)"},
              {"offset":0.7625,"color":"rgba(28,47,216,0)"},{"offset":0.764,"color":"#1c2fd8"},{"offset":0.7655,"color":"rgba(28,47,216,0)"},
              {"offset":0.774,"color":"rgba(28,47,216,0)"},{"offset":0.7755,"color":"#1c2fd8"},{"offset":0.777,"color":"rgba(28,47,216,0)"},
              {"offset":0.7855,"color":"rgba(28,47,216,0)"},{"offset":0.787,"color":"#1c2fd8"},{"offset":0.7885,"color":"rgba(28,47,216,0)"},
              {"offset":0.797,"color":"rgba(28,47,216,0)"},{"offset":0.7985,"color":"#1c2fd8"},{"offset":0.8,"color":"rgba(28,47,216,0)"},
              {"offset":0.8085,"color":"rgba(28,47,216,0)"},{"offset":0.81,"color":"#1c2fd8"},{"offset":0.8115,"color":"rgba(28,47,216,0)"},
              {"offset":0.82,"color":"rgba(28,47,216,0)"},{"offset":0.8215,"color":"#1c2fd8"},{"offset":0.823,"color":"rgba(28,47,216,0)"},
              {"offset":0.8315,"color":"rgba(28,47,216,0)"},{"offset":0.833,"color":"#1c2fd8"},{"offset":0.8345,"color":"rgba(28,47,216,0)"},
              {"offset":0.843,"color":"rgba(28,47,216,0)"},{"offset":0.8445,"color":"#1c2fd8"},{"offset":0.846,"color":"rgba(28,47,216,0)"},
              {"offset":0.8545,"color":"rgba(28,47,216,0)"},{"offset":0.856,"color":"#1c2fd8"},{"offset":0.8575,"color":"rgba(28,47,216,0)"},
              {"offset":0.866,"color":"rgba(28,47,216,0)"},{"offset":0.8675,"color":"#1c2fd8"},{"offset":0.869,"color":"rgba(28,47,216,0)"},
              {"offset":0.8775,"color":"rgba(28,47,216,0)"},{"offset":0.879,"color":"#1c2fd8"},{"offset":0.8805,"color":"rgba(28,47,216,0)"},
              {"offset":0.889,"color":"rgba(28,47,216,0)"},{"offset":0.8905,"color":"#1c2fd8"},{"offset":0.892,"color":"rgba(28,47,216,0)"},
              {"offset":0.9005,"color":"rgba(28,47,216,0)"},{"offset":0.902,"color":"#1c2fd8"},{"offset":0.9035,"color":"rgba(28,47,216,0)"},
              {"offset":0.912,"color":"rgba(28,47,216,0)"},{"offset":0.9135,"color":"#1c2fd8"},{"offset":0.915,"color":"rgba(28,47,216,0)"},
              {"offset":0.9235,"color":"rgba(28,47,216,0)"},{"offset":0.925,"color":"#1c2fd8"},{"offset":0.9265,"color":"rgba(28,47,216,0)"},
              {"offset":0.935,"color":"rgba(28,47,216,0)"},{"offset":0.9365,"color":"#1c2fd8"},{"offset":0.938,"color":"rgba(28,47,216,0)"},
              {"offset":0.9465,"color":"rgba(28,47,216,0)"},{"offset":0.948,"color":"#1c2fd8"},{"offset":0.9495,"color":"rgba(28,47,216,0)"},
              {"offset":0.958,"color":"rgba(28,47,216,0)"},{"offset":0.9595,"color":"#1c2fd8"},{"offset":0.961,"color":"rgba(28,47,216,0)"},
              {"offset":0.9695,"color":"rgba(28,47,216,0)"},{"offset":0.971,"color":"#1c2fd8"},{"offset":0.9725,"color":"rgba(28,47,216,0)"},
              {"offset":0.981,"color":"rgba(28,47,216,0)"},{"offset":0.9825,"color":"#1c2fd8"},{"offset":0.984,"color":"rgba(28,47,216,0)"},
              {"offset":0.9925,"color":"rgba(28,47,216,0)"},{"offset":0.994,"color":"#1c2fd8"},{"offset":0.9955,"color":"rgba(28,47,216,0)"}
            ]
          }
        }
      }
    },
    {
      "data": {"name": "deaths"},
      "mark": {"type": "point", "shape": "M0,-1V1", "size": 1024, "filled": false, "strokeWidth": 2.2, "color": "#000099", "opacity": 1},
      "encoding": {
        "x": {"field": "d", "type": "temporal", "axis": null},
        "y": {"field": "v", "type": "quantitative", "axis": null}
      }
    },
    {
      "data": {"name": "deaths"},
      "mark": {"type": "line", "strokeWidth": 2},
      "encoding": {
        "x": {
          "field": "d", "type": "temporal",
          "scale": {"type": "utc", "domain": [1420070400000, 1653436800000], "nice": false},
          "axis": {
            "orient": "bottom",
            "values": [1483142400000, 1546214400000, 1609372800000],
            "labels": false, "domain": false, "tickSize": -47, "tickWidth": 2,
            "tickColor": "#000000", "title": null, "zindex": 2
          }
        },
        "y": {
          "field": "v", "type": "quantitative",
          "scale": {"domain": [0, 3800], "nice": false},
          "axis": {
            "orient": "left",
            "values": [0, 500, 1000, 1500, 2000, 2500, 3000, 3500],
            "labels": false, "domain": false, "tickSize": -39, "tickWidth": 2,
            "tickColor": "#000000", "title": null, "zindex": 2
          }
        },
        "stroke": {
          "datum": "Deaths/day", "type": "nominal",
          "scale": {"range": ["#000099"]},
          "legend": {
            "orient": "none", "legendX": 79, "legendY": 19, "title": null, "padding": 0,
            "labelFontSize": 43, "labelFont": "Liberation Sans", "labelColor": "#000000",
            "labelLimit": 1000, "labelOffset": 46,
            "symbolType": "M-2,0H2", "symbolSize": 2704, "symbolStrokeWidth": 1.5
          }
        }
      }
    },
    {
      "data": {"name": "baseline"},
      "mark": {"type": "line", "strokeWidth": 3, "interpolate": "monotone"},
      "encoding": {
        "x": {
          "field": "d", "type": "temporal",
          "scale": {"type": "utc", "domain": [1420070400000, 1653436800000], "nice": false},
          "axis": {
            "orient": "bottom",
            "values": [1427077440000, 1434084480000, 1441091520000, 1448098560000, 1455114240000, 1462121280000, 1469128320000, 1476135360000,
                       1490149440000, 1497156480000, 1504163520000, 1511170560000, 1518186240000, 1525193280000, 1532200320000, 1539207360000,
                       1553221440000, 1560228480000, 1567235520000, 1574242560000, 1581258240000, 1588265280000, 1595272320000, 1602279360000,
                       1616379840000, 1623386880000, 1630393920000, 1637400960000, 1644416640000, 1651423680000],
            "labels": false, "domain": false, "tickSize": -22, "tickWidth": 2,
            "tickColor": "#000000", "title": null, "zindex": 2
          }
        },
        "y": {
          "field": "v", "type": "quantitative",
          "scale": {"domain": [0, 3800], "nice": false},
          "axis": {
            "orient": "left",
            "values": [100, 200, 300, 400, 600, 700, 800, 900, 1100, 1200, 1300, 1400, 1600, 1700, 1800, 1900, 2100, 2200, 2300, 2400, 2600, 2700, 2800, 2900, 3100, 3200, 3300, 3400, 3600, 3700],
            "labels": false, "domain": false, "tickSize": -20, "tickWidth": 2,
            "tickColor": "#000000", "title": null, "zindex": 2
          }
        },
        "color": {
          "datum": "Baseline fit", "type": "nominal",
          "scale": {"range": ["#ff0000"]},
          "legend": {
            "orient": "none", "legendX": 79, "legendY": 200, "title": null, "padding": 0,
            "labelFontSize": 43, "labelFont": "Liberation Sans", "labelColor": "#000000",
            "labelLimit": 1000, "labelOffset": 46,
            "symbolType": "M-2,0H2", "symbolSize": 2704, "symbolStrokeWidth": 3
          }
        }
      }
    },
    {
      "data": {"name": "fitregion"},
      "transform": [{"filter": "false"}],
      "mark": {
        "type": "area", "stroke": "#1c2fd8", "strokeWidth": 1.5,
        "fill": {
          "gradient": "linear", "x1": 0, "y1": 0, "x2": 1.1765, "y2": 0.7059,
          "stops": [
            {"offset":0.032,"color":"rgba(28,47,216,0)"},{"offset":0.043,"color":"#1c2fd8"},{"offset":0.054,"color":"rgba(28,47,216,0)"},
            {"offset":0.118,"color":"rgba(28,47,216,0)"},{"offset":0.129,"color":"#1c2fd8"},{"offset":0.14,"color":"rgba(28,47,216,0)"},
            {"offset":0.204,"color":"rgba(28,47,216,0)"},{"offset":0.215,"color":"#1c2fd8"},{"offset":0.226,"color":"rgba(28,47,216,0)"},
            {"offset":0.29,"color":"rgba(28,47,216,0)"},{"offset":0.301,"color":"#1c2fd8"},{"offset":0.312,"color":"rgba(28,47,216,0)"},
            {"offset":0.376,"color":"rgba(28,47,216,0)"},{"offset":0.387,"color":"#1c2fd8"},{"offset":0.398,"color":"rgba(28,47,216,0)"},
            {"offset":0.462,"color":"rgba(28,47,216,0)"},{"offset":0.473,"color":"#1c2fd8"},{"offset":0.484,"color":"rgba(28,47,216,0)"},
            {"offset":0.548,"color":"rgba(28,47,216,0)"},{"offset":0.559,"color":"#1c2fd8"},{"offset":0.57,"color":"rgba(28,47,216,0)"},
            {"offset":0.634,"color":"rgba(28,47,216,0)"},{"offset":0.645,"color":"#1c2fd8"},{"offset":0.656,"color":"rgba(28,47,216,0)"},
            {"offset":0.72,"color":"rgba(28,47,216,0)"},{"offset":0.731,"color":"#1c2fd8"},{"offset":0.742,"color":"rgba(28,47,216,0)"},
            {"offset":0.806,"color":"rgba(28,47,216,0)"},{"offset":0.817,"color":"#1c2fd8"},{"offset":0.828,"color":"rgba(28,47,216,0)"},
            {"offset":0.892,"color":"rgba(28,47,216,0)"},{"offset":0.903,"color":"#1c2fd8"},{"offset":0.914,"color":"rgba(28,47,216,0)"},
            {"offset":0.978,"color":"rgba(28,47,216,0)"},{"offset":0.989,"color":"#1c2fd8"},{"offset":1,"color":"rgba(28,47,216,0)"}
          ]
        }
      },
      "encoding": {
        "x": {"field": "d", "type": "temporal", "axis": null},
        "y": {"field": "v", "type": "quantitative", "axis": null},
        "opacity": {
          "datum": "Region used to fit baseline", "type": "ordinal",
          "scale": {"range": [1]},
          "legend": {
            "orient": "none", "legendX": 79, "legendY": 109, "title": null, "padding": 0,
            "labelFontSize": 43, "labelFont": "Liberation Sans", "labelColor": "#000000",
            "labelLimit": 1000, "labelOffset": 46,
            "symbolType": "M-2,-1.2H2V1.2H-2Z", "symbolSize": 2704,
            "symbolStrokeColor": "#1c2fd8", "symbolStrokeWidth": 1.5, "symbolOpacity": 1,
            "encode": {
              "symbols": {
                "stroke": {"value": "#1c2fd8"},
                "strokeWidth": {"value": 1.5}
              }
            }
          }
        }
      }
    }
  ],
  "resolve": {"axis": {"x": "independent", "y": "independent"}},
  "config": {
    "font": "Liberation Sans",
    "view": {"stroke": "#000000", "strokeWidth": 2},
    "axis": {
      "grid": false,
      "labelFont": "Liberation Sans",
      "titleFont": "Liberation Sans",
      "labelColor": "#000000",
      "titleColor": "#000000",
      "tickColor": "#000000"
    }
  }
}
